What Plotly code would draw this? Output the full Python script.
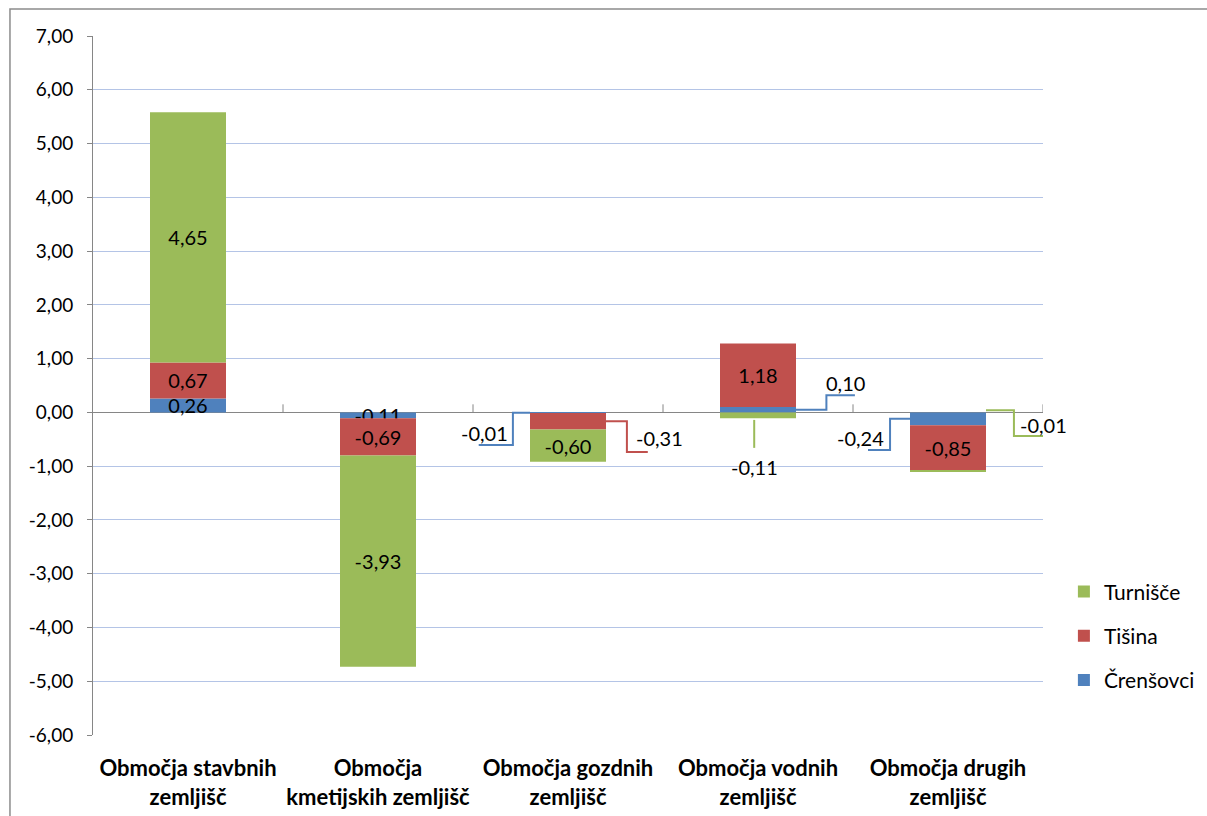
import plotly.graph_objects as go

categories = [
    "Območja stavbnih<br>zemljišč",
    "Območja<br>kmetijskih zemljišč",
    "Območja gozdnih<br>zemljišč",
    "Območja vodnih<br>zemljišč",
    "Območja drugih<br>zemljišč",
]
series_names = ["Črenšovci", "Tišina", "Turnišče"]
crensovci = [0.26, -0.11, -0.01, 0.10, -0.24]
tisina = [0.67, -0.69, -0.31, 1.18, -0.85]
turnisce = [4.65, -3.93, -0.60, -0.11, -0.01]
y_ticks = list(range(-6, 8))

COLORS = ["#4F81BD", "#C0504D", "#9BBB59"]
FONT = "Lato, Calibri, Arial"
FS = 19       # axis ticks
FS_LBL = 20   # data labels
BAR_W = 0.4
X_RANGE = [-0.5, 4.5]

values = [crensovci, tisina, turnisce]
xs = list(range(len(categories)))

# labels moved out of the bar, with leader lines (trace, category, side, start y, steps, label offset)
LEADERS = [
    (0, 2, "left", None, [(-0.09, 0), (0, -0.6), (-0.18, 0)], (-0.24, -0.37)),
    (1, 2, "right", None, [(0.11, 0), (0, -0.57), (0.11, 0)], (0.284, -0.305)),
    (2, 3, "bottom", None, [(0, -0.52)], (0, -0.87)),
    (0, 3, "right", None, [(0.16, 0), (0, 0.27), (0.15, 0)], (0.258, 0.5)),
    (0, 4, "left", None, [(-0.105, 0), (0, -0.58), (-0.116, 0)], (-0.263, -0.35)),
    (2, 4, "right", 0.04, [(0.147, 0), (0, -0.48), (0.158, 0)], (0.305, -0.27)),
]
moved = {(k, i) for k, i, *_ in LEADERS}


def fmt(v):
    return f"{v:.2f}".replace(".", ",")


def segment(k, i):
    """BOTTOM/TOP OF A STACKED SEGMENT (relative barmode)"""
    v = values[k][i]
    base = sum(values[j][i] for j in range(k) if (values[j][i] >= 0) == (v >= 0))
    return base, base + v


def to_paper(x):
    return (x - X_RANGE[0]) / (X_RANGE[1] - X_RANGE[0])


fig = go.Figure()
for k, name in enumerate(series_names):
    fig.add_trace(
        go.Bar(
            x=xs,
            y=values[k],
            name=name,
            width=BAR_W,
            marker_color=COLORS[k],
            marker_line_width=0,
            text=["" if (k, i) in moved else fmt(v) for i, v in enumerate(values[k])],
            textposition="inside",
            insidetextanchor="middle",
            constraintext="none",
            textangle=0,
            textfont=dict(color="black", size=FS_LBL, family=FONT),
            legendgroup=name,
            legendrank=3 - k,
            hoverinfo="skip",
        )
    )

shapes = []
annotations = []
for k, i, side, y_over, steps, (lx, ly) in LEADERS:
    lo, hi = segment(k, i)
    ymid = (lo + hi) / 2
    if side == "left":
        x0, y0 = i - BAR_W / 2, ymid
    elif side == "right":
        x0, y0 = i + BAR_W / 2, ymid
    else:
        x0, y0 = i - 0.02, min(lo, hi) - 0.03
    if y_over is not None:
        y0 = y_over
    path = f"M{x0},{y0}"
    cx, cy = x0, y0
    for dx, dy in steps:
        cx, cy = cx + dx, cy + dy
        path += f" L{cx},{cy}"
    shapes.append(
        dict(type="path", path=path, xref="x", yref="y",
             line=dict(color=COLORS[k], width=2))
    )
    annotations.append(
        dict(x=to_paper(x0 + lx), y=y0 + ly, xref="paper", yref="y",
             xanchor="center", yanchor="middle",
             text=fmt(values[k][i]), showarrow=False,
             font=dict(size=FS_LBL, color="black", family=FONT))
    )

# category boundary ticks on the zero line
for b in range(len(categories)):
    shapes.append(
        dict(type="line", xref="x", yref="y", x0=b + 0.5, x1=b + 0.5, y0=0, y1=0.15,
             line=dict(color="#868686", width=1))
    )

# outer chart border
shapes.append(
    dict(type="rect", xref="paper", yref="paper", x0=-0.0874, x1=1.3,
         y0=-0.3, y1=1.0386, line=dict(color="#8C8C8C", width=1.5))
)

fig.update_layout(
    width=1207,
    height=816,
    barmode="relative",
    separators=",.",
    paper_bgcolor="white",
    plot_bgcolor="white",
    margin=dict(l=93, r=164, t=36, b=81, autoexpand=False),
    font=dict(family=FONT, size=FS, color="black"),
    shapes=shapes,
    annotations=annotations,
    legend=dict(
        x=1.022,
        xanchor="left",
        y=0.142,
        yanchor="middle",
        traceorder="grouped",
        tracegroupgap=14,
        font=dict(size=21, family=FONT),
    ),
    xaxis=dict(
        range=X_RANGE,
        tickvals=xs,
        ticktext=[f"<b>{c}</b>" for c in categories],
        showgrid=False,
        zeroline=False,
        ticks="",
        showline=False,
        ticklabelstandoff=18,
        tickfont=dict(size=22, family=FONT),
    ),
    yaxis=dict(
        range=[-6, 7],
        tickvals=y_ticks,
        ticktext=[fmt(v) for v in y_ticks],
        gridcolor="#B4C4E6",
        gridwidth=1,
        zeroline=True,
        zerolinecolor="#868686",
        zerolinewidth=1,
        showline=True,
        linecolor="#868686",
        linewidth=1,
        ticks="outside",
        ticklen=5,
        tickcolor="#868686",
        ticklabelstandoff=10,
        tickfont=dict(size=FS, family=FONT),
    ),
)

fig.write_html(
    "out.html",
    config={"displayModeBar": False},
    post_script="document.body.style.margin='0';",
)
